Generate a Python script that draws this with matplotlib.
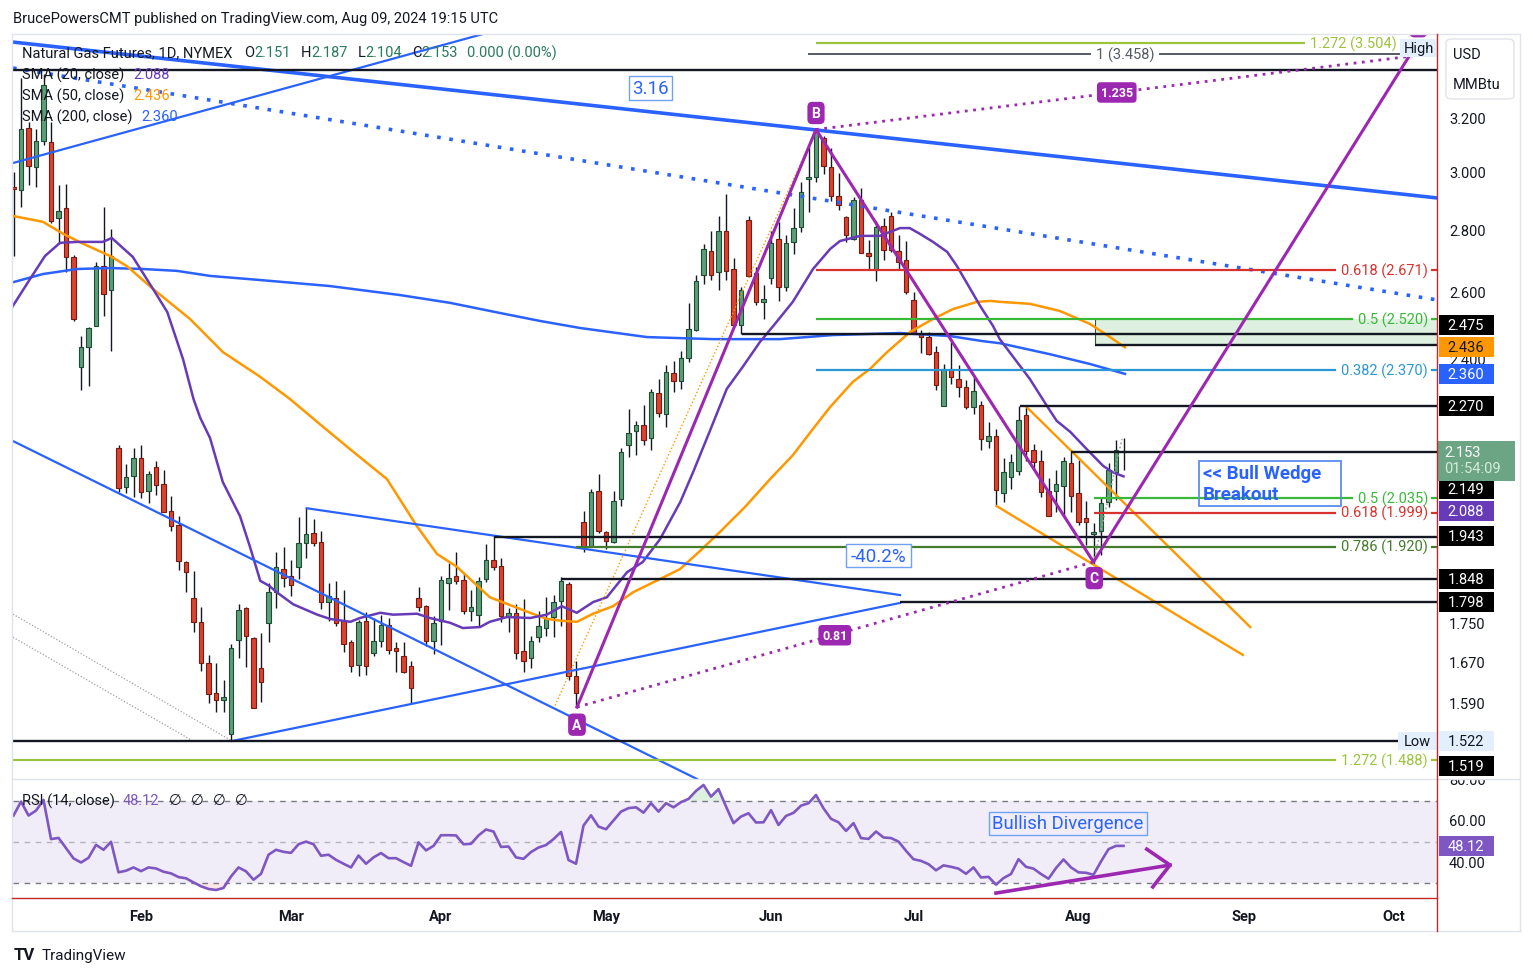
"""Natural Gas Futures 1D (NYMEX) - TradingView style chart, rebuilt with matplotlib."""
import numpy as np
import matplotlib
matplotlib.use("Agg")
import matplotlib.pyplot as plt
import matplotlib.transforms as mtransforms
from matplotlib.path import Path
from matplotlib.patches import Rectangle, FancyBboxPatch
from matplotlib.lines import Line2D

plt.rcParams["font.family"] = ["Roboto", "DejaVu Sans"]

W, H = 1533, 978
FIRST_BAR = -17            # bar 0 = 1 Feb 2024, one bar per trading day
XLIM = (-17.07, 172.8)
YLIM = (1.4545, 3.542)
RSI_LIM = (22.7, 80.7)

# ---------------- daily OHLC ----------------
opens = [2.950, 2.940, 3.166, 3.021, 3.116, 3.112, 2.843, 2.877, 2.714, 2.380, 2.437, 2.499, 2.684, 2.609,
         2.160, 2.062, 2.088,
         2.134, 2.052, 2.111, 2.069, 2.003, 1.970, 1.885, 1.805, 1.755, 1.671,
         1.612, 1.598, 1.535, 1.717, 1.784, 1.721, 1.661, 1.753, 1.818, 1.869,
         1.854, 1.874, 1.928, 1.951, 1.930, 1.797, 1.805, 1.757, 1.713, 1.667,
         1.757, 1.691, 1.715, 1.749, 1.701, 1.685, 1.665, 1.805, 1.788, 1.715,
         1.757, 1.838, 1.854, 1.845, 1.778, 1.769, 1.847, 1.890, 1.876, 1.767,
         1.774, 1.695, 1.681, 1.724, 1.742, 1.765, 1.799, 1.836, 1.645, 1.977,
         1.921, 2.052, 1.953, 1.930, 2.032, 2.168, 2.205, 2.220, 2.186, 2.307,
         2.250, 2.363, 2.340, 2.405, 2.487, 2.656, 2.733, 2.665, 2.799, 2.675,
         2.502, 2.836, 2.662, 2.572, 2.646, 2.773, 2.619, 2.763, 2.813, 2.979,
         2.986, 3.128, 3.021, 2.919, 2.847, 2.773, 2.905, 2.727, 2.672, 2.816,
         2.850, 2.733, 2.704, 2.578, 2.475, 2.466, 2.422, 2.271, 2.374, 2.346,
         2.324, 2.268, 2.274, 2.178, 2.191, 2.047, 2.086, 2.101, 2.247, 2.155,
         2.127, 2.052, 2.052, 2.064, 2.122, 2.047, 1.986, 1.949, 1.956, 2.025,
         2.098, 2.151]
highs = [3.005, 3.360, 3.189, 3.162, 3.377, 3.189, 2.957, 2.961, 2.720, 2.470, 2.496, 2.697, 2.881, 2.806,
         2.168, 2.119, 2.160,
         2.168, 2.101, 2.127, 2.104, 2.040, 1.991, 1.888, 1.865, 1.786, 1.687,
         1.671, 1.637, 1.709, 1.792, 1.787, 1.724, 1.732, 1.838, 1.907, 1.919,
         1.890, 1.989, 2.010, 1.984, 1.956, 1.838, 1.843, 1.823, 1.717, 1.759,
         1.776, 1.763, 1.769, 1.763, 1.713, 1.713, 1.675, 1.829, 1.790, 1.767,
         1.854, 1.883, 1.907, 1.858, 1.823, 1.851, 1.925, 1.944, 1.894, 1.784,
         1.792, 1.803, 1.726, 1.778, 1.807, 1.812, 1.851, 1.840, 1.675, 2.003,
         2.057, 2.094, 1.956, 2.052, 2.160, 2.263, 2.231, 2.274, 2.318, 2.346,
         2.385, 2.397, 2.425, 2.569, 2.656, 2.757, 2.799, 2.850, 2.926, 2.710,
         2.618, 2.850, 2.682, 2.625, 2.799, 2.830, 2.786, 2.877, 2.968, 3.094,
         3.160, 3.135, 3.091, 3.000, 2.850, 2.915, 2.947, 2.770, 2.833, 2.843,
         2.864, 2.786, 2.766, 2.603, 2.487, 2.481, 2.440, 2.388, 2.452, 2.385,
         2.343, 2.352, 2.285, 2.229, 2.210, 2.134, 2.145, 2.271, 2.268, 2.170,
         2.155, 2.084, 2.104, 2.137, 2.150, 2.129, 2.027, 1.975, 2.035, 2.122,
         2.181, 2.187]
lows = [2.717, 2.881, 2.957, 2.950, 3.101, 2.826, 2.757, 2.665, 2.514, 2.315, 2.326, 2.499, 2.529, 2.425,
        2.050, 2.047, 2.037,
        2.035, 2.022, 2.042, 2.001, 1.956, 1.867, 1.818, 1.734, 1.655, 1.592,
        1.575, 1.575, 1.522, 1.681, 1.663, 1.583, 1.594, 1.713, 1.784, 1.829,
        1.810, 1.847, 1.894, 1.921, 1.782, 1.757, 1.746, 1.693, 1.653, 1.645,
        1.647, 1.685, 1.703, 1.689, 1.653, 1.651, 1.590, 1.778, 1.705, 1.689,
        1.707, 1.780, 1.836, 1.772, 1.757, 1.746, 1.840, 1.867, 1.755, 1.734,
        1.679, 1.653, 1.661, 1.713, 1.726, 1.724, 1.746, 1.637, 1.585, 1.907,
        1.919, 1.951, 1.914, 1.928, 2.015, 2.137, 2.142, 2.168, 2.155, 2.241,
        2.215, 2.310, 2.318, 2.394, 2.485, 2.628, 2.640, 2.609, 2.640, 2.496,
        2.475, 2.650, 2.562, 2.520, 2.628, 2.575, 2.606, 2.723, 2.796, 2.864,
        2.968, 2.996, 2.901, 2.870, 2.763, 2.770, 2.727, 2.672, 2.637, 2.704,
        2.730, 2.672, 2.597, 2.475, 2.419, 2.414, 2.315, 2.270, 2.332, 2.296,
        2.263, 2.250, 2.155, 2.160, 2.015, 2.025, 2.057, 2.091, 2.127, 2.104,
        2.037, 1.991, 2.001, 1.991, 2.001, 1.970, 1.923, 1.880, 1.900, 2.013,
        2.030, 2.104]
closes = [2.943, 3.162, 3.025, 3.116, 3.333, 2.833, 2.867, 2.714, 2.520, 2.437, 2.493, 2.684, 2.596, 2.717,
          2.059, 2.086, 2.134,
          2.050, 2.094, 2.067, 2.001, 1.968, 1.887, 1.863, 1.755, 1.671, 1.610,
          1.598, 1.604, 1.701, 1.780, 1.726, 1.583, 1.633, 1.818, 1.874, 1.849,
          1.834, 1.928, 1.949, 1.928, 1.797, 1.810, 1.753, 1.709, 1.665, 1.755,
          1.665, 1.715, 1.749, 1.697, 1.695, 1.653, 1.622, 1.786, 1.715, 1.753,
          1.845, 1.849, 1.843, 1.778, 1.786, 1.843, 1.890, 1.874, 1.767, 1.774,
          1.691, 1.675, 1.715, 1.746, 1.761, 1.797, 1.843, 1.645, 1.612, 1.918,
          2.050, 1.956, 1.932, 2.027, 2.150, 2.199, 2.220, 2.181, 2.310, 2.252,
          2.366, 2.340, 2.405, 2.490, 2.637, 2.740, 2.656, 2.799, 2.669, 2.502,
          2.609, 2.652, 2.572, 2.581, 2.760, 2.619, 2.760, 2.809, 2.932, 2.985,
          3.155, 3.025, 2.919, 2.888, 2.786, 2.905, 2.727, 2.717, 2.813, 2.737,
          2.737, 2.698, 2.603, 2.478, 2.466, 2.417, 2.329, 2.374, 2.352, 2.324,
          2.268, 2.313, 2.183, 2.191, 2.054, 2.098, 2.124, 2.233, 2.152, 2.124,
          2.050, 1.991, 2.069, 2.127, 2.040, 1.977, 1.977, 1.954, 2.022, 2.104,
          2.155, 2.153]

rsi_vals = [62.9, 69.7, 62.9, 65.3, 70.5, 51.4, 52.0, 47.0, 42.0, 40.0,
            42.3, 48.6, 46.2, 50.1, 35.2, 36.0, 37.6, 35.8, 37.6, 37.1,
            35.5, 34.7, 32.9, 32.3, 30.3, 28.4, 27.1, 26.6, 27.6, 33.2,
            37.6, 35.7, 31.6, 34.5, 43.8, 46.2, 45.2, 44.7, 48.9, 50.2,
            48.9, 43.3, 43.8, 41.3, 39.4, 37.6, 43.4, 39.4, 42.5, 44.6,
            42.1, 42.1, 40.2, 38.4, 49.8, 45.9, 48.1, 53.3, 53.3, 53.2,
            48.9, 49.1, 53.2, 56.1, 55.1, 47.6, 47.8, 42.5, 41.8, 45.1,
            47.3, 48.5, 51.4, 54.9, 41.2, 39.4, 58.0, 63.0, 57.5, 56.2,
            60.5, 64.8, 66.5, 66.9, 64.3, 68.9, 64.8, 68.9, 66.9, 69.4,
            71.0, 74.9, 77.8, 72.1, 75.8, 67.3, 59.2, 62.4, 64.0, 59.5,
            59.6, 65.5, 58.3, 62.7, 64.2, 67.7, 68.9, 72.9, 66.4, 61.3,
            59.6, 55.4, 59.2, 51.9, 51.5, 55.1, 52.2, 51.9, 50.2, 45.7,
            41.6, 40.8, 39.2, 36.2, 38.6, 37.9, 37.0, 34.5, 37.6, 32.7,
            33.0, 29.2, 32.4, 34.4, 41.6, 37.9, 37.0, 34.4, 32.1, 37.3,
            41.5, 37.6, 35.2, 35.0, 34.0, 40.5, 46.5, 48.1, 48.1]

# moving averages, read as polyline vertices (bar, price)
sma20_x = [-17.1, -14.8, -12.8, -10.8, -8.5, -5.1, -3.9, -1.1, 1.6, 3.5, 5.6, 7.0, 7.9, 9.2, 10.9,
           13.2, 14.5, 15.9, 17.1, 18.1, 20.3, 23.5, 25.2, 27.9, 29.2, 31.9, 33.6, 36.8, 38.5, 41.2,
           42.9, 45.2, 46.5, 48.8, 51.9, 54.1, 56.1, 58.1, 60.3, 62.1, 64.8, 66.9, 69.2, 71.9, 73.6,
           75.9, 78.1, 80.3, 82.5, 84.3, 86.9, 89.6, 91.9, 93.2, 95.9, 98.5, 101.2, 102.5, 103.9, 105.6,
           107.5, 108.8, 110.1, 111.9, 113.6, 114.5, 118.5, 120.8, 122.1, 123.9, 126.1, 128.3, 129.6, 131.0]
sma20_y = [2.559, 2.643, 2.717, 2.760, 2.763, 2.763, 2.776, 2.714, 2.612, 2.541, 2.402, 2.290, 2.239, 2.186, 2.074,
           1.991, 1.921, 1.843, 1.832, 1.818, 1.792, 1.770, 1.761, 1.755, 1.763, 1.774, 1.770, 1.772, 1.763, 1.753,
           1.742, 1.744, 1.755, 1.765, 1.763, 1.770, 1.788, 1.774, 1.797, 1.807, 1.862, 1.885, 1.937, 2.025, 2.098,
           2.207, 2.318, 2.382, 2.451, 2.499, 2.572, 2.675, 2.740, 2.766, 2.783, 2.783, 2.809, 2.809, 2.789, 2.763,
           2.730, 2.684, 2.631, 2.559, 2.499, 2.460, 2.346, 2.271, 2.231, 2.202, 2.157, 2.114, 2.098, 2.088]
sma50_x = [-17.07, -13.07, -10.4, -7.73, -4.13, -1.87, 1.6, 6.53, 10.93, 15.87, 19.87, 23.87, 27.87, 32.8,
           36.8, 39.47, 42.13, 43.87, 46.53, 49.6, 51.87, 54.13, 56.13, 58.13, 60.27, 62.93, 65.6, 69.2,
           71.87, 74.53, 77.2, 80.53, 83.87, 86.93, 89.6, 91.87, 94.93, 97.2, 99.47, 102.53, 105.6, 108.27,
           111.47, 113.2, 114.53, 118.53, 122.53, 126.53, 129.2, 131.2]
sma50_y = [2.850, 2.830, 2.790, 2.757, 2.717, 2.684, 2.612, 2.520, 2.422, 2.352, 2.290, 2.222, 2.157, 2.081,
           1.967, 1.903, 1.874, 1.847, 1.807, 1.788, 1.774, 1.761, 1.757, 1.755, 1.772, 1.788, 1.818, 1.847,
           1.869, 1.910, 1.954, 2.013, 2.081, 2.142, 2.210, 2.268, 2.338, 2.374, 2.422, 2.481, 2.520, 2.550,
           2.572, 2.575, 2.572, 2.566, 2.544, 2.505, 2.466, 2.436]
sma200_x = [-17.07, -13.07, -8.53, -4.13, 0.27, 4.8, 9.2, 15.87, 25.2, 34.53, 41.2, 47.87, 53.2,
            58.53, 67.47, 76.27, 85.2, 92.27, 101.2, 107.87, 112.27, 114.53, 121.2, 126.53, 131.2]
sma200_y = [2.633, 2.659, 2.675, 2.678, 2.675, 2.669, 2.653, 2.640, 2.621, 2.593, 2.569, 2.538, 2.514,
            2.493, 2.466, 2.460, 2.460, 2.472, 2.478, 2.469, 2.454, 2.448, 2.416, 2.388, 2.360]

month_pos = [0, 20, 40, 62, 84, 103, 125, 147, 167]
month_lbl = ["Feb", "Mar", "Apr", "May", "Jun", "Jul", "Aug", "Sep", "Oct"]
price_ticks = [3.2, 3.0, 2.8, 2.6, 2.4, 1.75, 1.67, 1.59]

# drawn trend lines: (bars, prices)
blue_top = ([-17.07, 172.8], [3.508, 2.912])
blue_dotted = ([-17.07, 172.8], [3.401, 2.578])
blue_rising = ([-17.07, 45.6], [3.036, 3.542])
blue_falling = ([-17.07, 74.13], [2.178, 1.4545])
tri_upper = ([22.09, 101.2], [2.010, 1.812])
tri_lower = ([12.13, 101.2], [1.522, 1.795])
gray_dot_a = ([-17.07, 12.13], [1.771, 1.522])
gray_dot_b = ([-17.07, 6.93], [1.723, 1.522])
abcd_x = [58.13, 90.0, 127.0, 170.1]
abcd_y = [1.585, 3.160, 1.885, 3.500]
ac_dotted = ([58.13, 127.0], [1.585, 1.885])
bd_dotted = ([90.0, 169.5], [3.160, 3.450])
orange_dotted = ([55.2, 90.0, 117.2], [1.588, 3.160, 2.165])
wedge_upper = ([118.1, 147.9], [2.268, 1.744])
wedge_lower = ([114.1, 146.9], [2.015, 1.687])
c_dotted = ([127.0, 130.8], [1.885, 2.183])

# horizontal levels: (price, first bar)
levels = [(3.393, XLIM[0]), (2.475, 80.1), (2.442, 127.2), (2.270, 117.2), (2.149, 124.0),
          (1.943, 47.0), (1.848, 56.0), (1.798, 101.2), (1.522, XLIM[0])]
zone = (127.2, 2.442, 2.520)

RED, GREEN, TEAL, DKGREEN, YGREEN = "#d8322e", "#38b938", "#2b97d3", "#437c2b", "#9cc43c"
# (label, price, first bar, colour, right end of label in bars)
fibs = [("1.272 (3.504)", 3.504, 90.0, YGREEN, 167.4), ("0.618 (2.671)", 2.671, 90.0, RED, 171.6),
        ("0.5 (2.520)", 2.520, 90.0, GREEN, 171.6), ("0.382 (2.370)", 2.370, 90.0, TEAL, 171.6),
        ("0.5 (2.035)", 2.035, 127.0, GREEN, 171.6), ("0.618 (1.999)", 1.999, 127.0, RED, 171.6),
        ("0.786 (1.920)", 1.920, 58.0, DKGREEN, 171.6), ("1.272 (1.488)", 1.488, XLIM[0], YGREEN, 171.6)]
fib_one = ("1 (3.458)", 3.458, 88.9, "#555a66")

# price-scale tags: (text, shown at price, background, text colour)
tags = [("2.475", 2.503, "#000000", "white"), ("2.436", 2.437, "#ff9800", "#131722"),
        ("2.360", 2.360, "#2962ff", "white"), ("2.270", 2.271, "#000000", "white"),
        ("2.149", 2.057, "#000000", "white"), ("2.088", 2.003, "#673ab7", "white"),
        ("1.943", 1.944, "#000000", "white"), ("1.848", 1.848, "#000000", "white"),
        ("1.798", 1.798, "#000000", "white"), ("1.522", 1.522, "#e3effd", "#131722"),
        ("1.519", 1.477, "#000000", "white")]

DARK = "#131722"
VALG = "#2a7a5c"


def fx(px):
    return px / W


def fy(py):
    return 1 - py / H


def fixed_box(w, h, left_pad=None, dy=0.0):
    """Box style of a fixed pixel size around a text."""
    def style(x0, y0, width, height, mutation_size):
        left = x0 + width / 2 - w / 2 if left_pad is None else x0 - left_pad
        bot = y0 + height / 2 - h / 2 + dy
        return Path([(left, bot), (left + w, bot), (left + w, bot + h), (left, bot + h), (left, bot)],
                    closed=True)
    return style


fig = plt.figure(figsize=(W / 100, H / 100), dpi=100, facecolor="white")
ax = fig.add_axes([fx(13), fy(780), fx(1437) - fx(13), fy(35) - fy(780)])
ar = fig.add_axes([fx(13), fy(899), fx(1437) - fx(13), fy(780) - fy(899)])

ax.set_yscale("log")
ax.set_xlim(XLIM)
ax.set_ylim(YLIM)
ax.axis("off")

# ---------------- candles ----------------
x = np.arange(FIRST_BAR, FIRST_BAR + len(opens))
o, h, l, c = map(np.array, (opens, highs, lows, closes))
up = c >= o
ax.vlines(x, l, h, color=DARK, lw=1.0, zorder=2)
ax.bar(x[up], (c - o)[up], bottom=o[up], width=0.66, color="#5d9d78", edgecolor="#1d4d33", lw=0.8, zorder=2.5)
ax.bar(x[~up], (o - c)[~up], bottom=c[~up], width=0.66, color="#d9432f", edgecolor="#7a1b12", lw=0.8, zorder=2.5)

# ---------------- moving averages ----------------
ax.plot(sma200_x, sma200_y, color="#2962ff", lw=1.8, zorder=3)
ax.plot(sma50_x, sma50_y, color="#ff9800", lw=1.8, zorder=3)
ax.plot(sma20_x, sma20_y, color="#673ab7", lw=1.8, zorder=3)

# ---------------- drawings ----------------
ax.add_patch(Rectangle((zone[0], zone[1]), XLIM[1] - zone[0], zone[2] - zone[1],
                       fc="#4caf50", alpha=0.18, ec="none", zorder=1))
ax.plot([zone[0], zone[0]], [zone[1], zone[2]], color="#2e5e30", lw=0.8, zorder=1.5)

ax.plot(*blue_top, color="#2962ff", lw=2.6, zorder=4)
ax.plot(*blue_dotted, color="#2962ff", lw=2.6, ls=(0, (1, 2.4)), zorder=4)
for ln in (blue_rising, blue_falling, tri_upper, tri_lower):
    ax.plot(*ln, color="#2962ff", lw=1.6, zorder=4)
for ln in (gray_dot_a, gray_dot_b):
    ax.plot(*ln, color="#a0a0a0", lw=0.9, ls=(0, (1, 1.5)), zorder=4)
ax.plot(*orange_dotted, color="#ff9800", lw=1.0, ls=(0, (1, 1.6)), zorder=4)
ax.plot(*c_dotted, color="#a0a0a0", lw=1.2, ls=(0, (1, 1.5)), zorder=4)
ax.plot(*wedge_upper, color="#ff9800", lw=1.7, zorder=4)
ax.plot(*wedge_lower, color="#ff9800", lw=1.7, zorder=4)
ax.plot(abcd_x, abcd_y, color="#9c27b0", lw=2.2, zorder=4.5)
ax.plot(*ac_dotted, color="#9c27b0", lw=2.0, ls=(0, (1, 2)), zorder=4.5)
ax.plot(*bd_dotted, color="#9c27b0", lw=2.0, ls=(0, (1, 2)), zorder=4.5)

for price, start in levels:
    ax.hlines(price, start, XLIM[1], color=DARK, lw=1.7, zorder=4)

# fib levels with their labels sitting in a gap of the line
renderer = fig.canvas.get_renderer()
inv = ax.transData.inverted()
for label, price, start, col, right in fibs:
    t = ax.text(right, price, label, color=col, fontsize=10.5, ha="right", va="center", zorder=6)
    bb = t.get_window_extent(renderer)
    gap_l = inv.transform((bb.x0 - 5, 0))[0]
    gap_r = inv.transform((bb.x1 + 3, 0))[0]
    ax.hlines(price, start, gap_l, color=col, lw=1.6, zorder=4)
    ax.hlines(price, gap_r, XLIM[1], color=col, lw=1.6, zorder=4)
label, price, start, col = fib_one
t = ax.text(131.2, price, label, color=col, fontsize=10.5, ha="center", va="center", zorder=6)
bb = t.get_window_extent(renderer)
ax.hlines(price, start, inv.transform((bb.x0 - 5, 0))[0], color=col, lw=1.4, zorder=4)
ax.hlines(price, inv.transform((bb.x1 + 5, 0))[0], XLIM[1], color=col, lw=1.4, zorder=4)

# point labels
for s, bx, py in (("A", 58.13, 1.552), ("B", 90.0, 3.223), ("C", 127.1, 1.849)):
    ax.text(bx, py, s, color="white", fontsize=10, fontweight="bold", ha="center", va="center", zorder=7,
            bbox=dict(boxstyle="round,pad=0.3,rounding_size=0.35", fc="#9c27b0", ec="none"))
ax.text(170.3, 3.575, "D", color="white", fontsize=10, fontweight="bold", ha="center", va="center",
        zorder=7, clip_on=True,
        bbox=dict(boxstyle="round,pad=0.3,rounding_size=0.35", fc="#9c27b0", ec="none"))
for s, bx, py in (("1.235", 130.1, 3.303), ("0.81", 92.5, 1.727)):
    ax.text(bx, py, s, color="white", fontsize=9, fontweight="bold", ha="center", va="center", zorder=7,
            bbox=dict(boxstyle="round,pad=0.3,rounding_size=0.3", fc="#9c27b0", ec="none"))

ax.text(67.9, 3.321, "3.16", color="#2962ff", fontsize=13.5, ha="center", va="center", zorder=7,
        bbox=dict(boxstyle=fixed_box(43, 24), fc="white", ec="#6fa2f2", lw=1.0))
ax.text(98.3, 1.899, "-40.2%", color="#2962ff", fontsize=13.5, ha="center", va="center", zorder=7,
        bbox=dict(boxstyle=fixed_box(65, 23), fc="white", ec="#6fa2f2", lw=1.0))
ax.text(141.6, 2.071, "<< Bull Wedge\nBreakout", color="#2962ff", fontsize=13.5, fontweight="bold",
        ha="left", va="center", linespacing=1.2, zorder=7,
        bbox=dict(boxstyle=fixed_box(142, 45, left_pad=4), fc="none", ec="#5b8def", lw=1.3))

ax.text(170.4, 3.482, "High", color=DARK, fontsize=10.5, ha="center", va="center", zorder=8,
        bbox=dict(boxstyle=fixed_box(38, 18), fc="#e3effd", ec="none"))
ax.text(170.2, 1.522, "Low", color=DARK, fontsize=10.5, ha="center", va="center", zorder=8,
        bbox=dict(boxstyle=fixed_box(39, 18), fc="#e3effd", ec="none"))

# ---------------- price scale ----------------
trans_r = mtransforms.blended_transform_factory(fig.transFigure, ax.transData)
for p in price_ticks:
    ax.text(fx(1449), p, f"{p:.3f}", transform=trans_r, color=DARK, fontsize=10.5,
            ha="left", va="center", zorder=5)
for s, p, bg, fg in tags:
    ax.text(fx(1466), p, s, transform=trans_r, color=fg, fontsize=10.5, ha="center", va="center",
            zorder=9, bbox=dict(boxstyle=fixed_box(55, 20), fc=bg, ec="none"))
ax.text(fx(1444), 2.150, "2.153", transform=trans_r, color="white", fontsize=10.5, ha="left",
        va="center", zorder=9, bbox=dict(boxstyle=fixed_box(77, 40, left_pad=6, dy=-9), fc="#6ba583", ec="none"))
ax.text(fx(1444), 2.108, "01:54:09", transform=trans_r, color="#d6ebdc", fontsize=10.5, ha="left",
        va="center", zorder=10)

fig.add_artist(FancyBboxPatch((fx(1446), fy(100)), fx(68), 60 / H, transform=fig.transFigure,
                              boxstyle="round,pad=0,rounding_size=0.004", fc="white", ec="#e0e3eb", lw=1))
fig.text(fx(1453), fy(55), "USD", color=DARK, fontsize=10.5, va="center")
fig.text(fx(1453), fy(85), "MMBtu", color=DARK, fontsize=10.5, va="center")

# ---------------- RSI pane ----------------
ar.set_xlim(XLIM)
ar.set_ylim(RSI_LIM)
for sp in ar.spines.values():
    sp.set_visible(False)
ar.set_yticks([])
ar.set_xticks(month_pos)
ar.set_xticklabels(month_lbl, fontweight="bold")
ar.tick_params(axis="x", length=0, pad=8, labelsize=10.5, labelcolor=DARK)

rsi = np.array(rsi_vals)
ar.fill_between(XLIM, 30, 70, color="#7e57c2", alpha=0.1, lw=0)
ar.fill_between(x, 70, rsi, where=rsi > 70, interpolate=True, color="#4caf50", alpha=0.18, lw=0)
ar.fill_between(x, 30, rsi, where=rsi < 30, interpolate=True, color="#f23645", alpha=0.12, lw=0)
ar.hlines([70, 30], *XLIM, color="#787b86", lw=1, ls=(0, (4, 4)))
ar.hlines(50, *XLIM, color="#787b86", lw=1, ls=(0, (4, 4)), alpha=0.5)
ar.plot(x, rsi, color="#7e57c2", lw=1.9, zorder=3)

ar.plot([114.0, 137.2], [25.1, 38.75], color="#9c27b0", lw=2.6, zorder=4)
ar.plot([134.1, 137.2, 134.9], [46.5, 38.75, 28.1], color="#9c27b0", lw=2.6, zorder=4)
ar.text(123.6, 59.2, "Bullish Divergence", color="#2962ff", fontsize=13.3, ha="center", va="center",
        zorder=5, bbox=dict(boxstyle=fixed_box(158, 23), fc="none", ec="#6fa2f2", lw=1.0))

trans_rr = mtransforms.blended_transform_factory(fig.transFigure, ar.transData)
for v in (80, 60, 40):
    t = ar.text(fx(1449), v, f"{v:.2f}", transform=trans_rr, color=DARK, fontsize=10.5,
                ha="left", va="center")
    if v == 80:
        t.set_clip_box(mtransforms.TransformedBbox(
            mtransforms.Bbox([[fx(1437), fy(900)], [fx(1520), fy(781)]]), fig.transFigure))
        t.set_clip_on(True)
ar.text(fx(1466), 48.12, "48.12", transform=trans_rr, color="white", fontsize=10.5, ha="center",
        va="center", zorder=9, bbox=dict(boxstyle=fixed_box(55, 20), fc="#7e57c2", ec="none"))

# ---------------- header / legend texts ----------------
def text_row(x_px, y_px, pieces, size=10.5):
    xp = x_px
    for s, col, gap in pieces:
        tt = fig.text(fx(xp), fy(y_px), s, color=col, fontsize=size, ha="left", va="center")
        xp += tt.get_window_extent(renderer).width + gap


fig.text(fx(13), fy(19), "BrucePowersCMT published on TradingView.com, Aug 09, 2024 19:15 UTC",
         color=DARK, fontsize=10.5, va="center")
text_row(22, 53, [("Natural Gas Futures, 1D, NYMEX", DARK, 12), ("O", DARK, 0), ("2.151", VALG, 10),
                  ("H", DARK, 0), ("2.187", VALG, 10), ("L", DARK, 0), ("2.104", VALG, 10),
                  ("C", DARK, 0), ("2.153", VALG, 9), ("0.000 (0.00%)", VALG, 0)])
text_row(22, 75, [("SMA (20, close)", DARK, 9), ("2.088", "#673ab7", 0)])
text_row(22, 96, [("SMA (50, close)", DARK, 9), ("2.436", "#ff9800", 0)])
text_row(22, 117, [("SMA (200, close)", DARK, 9), ("2.360", "#2962ff", 0)])
text_row(22, 801, [("RSI (14, close)", DARK, 8), ("48.12", "#7e57c2", 10), ("\u2205", DARK, 9),
                   ("\u2205", DARK, 9), ("\u2205", DARK, 9), ("\u2205", DARK, 0)])

fig.text(fx(14), fy(956), "TV", color=DARK, fontsize=12, fontweight="bold", va="center")
fig.text(fx(42), fy(956), "TradingView", color=DARK, fontsize=11, va="center")

# ---------------- frame ----------------
def fline(x0, y0, x1, y1, col, lw=1.0):
    fig.add_artist(Line2D([fx(x0), fx(x1)], [fy(y0), fy(y1)], transform=fig.transFigure, color=col, lw=lw))


fline(12, 35, 1520, 35, "#e0e3eb")
fline(12, 932, 1520, 932, "#e0e3eb")
fline(12, 35, 12, 932, "#e0e3eb")
fline(1520, 35, 1520, 932, "#e0e3eb")
fline(12, 780, 1520, 780, "#e0e3eb")
fline(1437, 35, 1437, 932, "#c62828")
fline(12, 899, 1437, 899, "#c62828")

fig.savefig("out.png", dpi=100, facecolor="white")
